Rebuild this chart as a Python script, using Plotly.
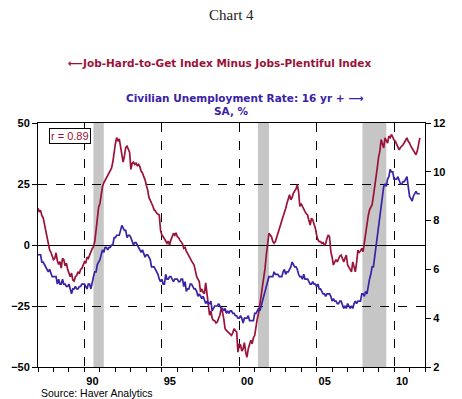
import plotly.graph_objects as go

# Monthly data, Jan 1987 .. Sep 2011
start_year = 1987
diff_index = [
    # 1987
    15.0, 13.5, 14.2, 12.0, 11.2, 8.5, 5.5, 4.0, 1.0, -2.0, -3.0, -4.2,
    # 1988
    -6.0, -5.5, -3.2, -6.5, -8.0, -6.8, -9.5, -5.5, -6.0, -8.5, -7.5, -10.0,
    # 1989
    -12.0, -13.0, -11.5, -14.4, -14.8, -13.0, -12.5, -11.0, -11.8, -10.0, -9.6, -8.5,
    # 1990
    -6.9, -7.5, -5.0, -5.5, -4.0, -3.4, -1.5, -0.7, 1.4, 6.0, 11.0, 15.5,
    # 1991
    17.0, 20.6, 24.0, 25.5, 26.5, 27.0, 28.0, 29.0, 30.0, 31.5, 34.0, 38.5,
    # 1992
    41.5, 44.0, 42.5, 43.5, 40.5, 37.0, 34.0, 36.5, 40.0, 40.5, 39.0, 38.0,
    # 1993
    31.0, 33.5, 34.0, 33.0, 33.5, 32.5, 33.0, 32.0, 30.2, 29.5, 28.0, 26.7,
    # 1994
    24.5, 22.6, 19.5, 18.5, 17.5, 16.0, 14.4, 14.0, 13.0, 12.5, 12.3, 6.0,
    # 1995
    4.1, 3.5, 2.7, 2.0, 0.7, 1.5, 0.0, 2.0, 3.4, 4.8, 4.0, 5.0,
    # 1996
    3.4, 3.0, 2.0, 1.4, 0.5, -1.4, -1.0, -2.5, -3.4, -4.0, -5.5, -6.5,
    # 1997
    -7.5, -8.2, -10.5, -13.0, -14.0, -15.0, -19.2, -18.0, -19.5, -19.9, -15.5, -20.6,
    # 1998
    -24.0, -28.8, -27.0, -30.0, -30.9, -31.0, -32.0, -31.6, -30.0, -28.8, -26.0, -27.5,
    # 1999
    -30.2, -34.3, -35.0, -35.7, -36.0, -36.5, -37.0, -36.0, -34.3, -35.0, -35.7, -43.9,
    # 2000
    -40.5, -41.0, -43.5, -42.5, -40.0, -44.0, -46.0, -42.5, -41.0, -39.0, -40.5, -38.0,
    # 2001
    -37.0, -33.0, -30.2, -28.0, -24.7, -21.0, -18.0, -14.0, -9.6, -4.0, 1.0, 4.8,
    # 2002
    4.1, 3.4, 1.5, 0.7, 1.4, 3.4, 5.0, 6.5, 8.2, 10.0, 11.5, 13.0,
    # 2003
    15.0, 17.1, 18.5, 20.6, 18.5, 19.5, 21.3, 22.0, 23.0, 24.7, 21.9, 15.8,
    # 2004
    17.0, 15.8, 14.5, 13.7, 12.8, 12.3, 10.0, 8.2, 11.0, 10.3, 8.5, 6.9,
    # 2005
    4.0, 2.1, 1.4, 1.4, 0.7, 1.0, 0.0, 0.5, 2.7, 4.1, 3.4, -2.7,
    # 2006
    -5.0, -8.2, -7.0, -6.0, -6.9, -5.5, -4.5, -4.1, -6.0, -6.9, -5.5, -4.1,
    # 2007
    -8.2, -9.0, -10.0, -11.0, -6.9, -9.0, -11.0, -7.0, -2.1, -3.0, -2.5, -1.4,
    # 2008
    -2.7, 1.0, 5.0, 8.0, 12.0, 14.4, 15.5, 16.5, 20.0, 23.3, 27.5, 31.6,
    # 2009
    36.0, 38.5, 43.2, 41.0, 39.8, 43.9, 42.5, 41.8, 44.6, 44.0, 45.3, 43.9,
    # 2010
    43.0, 42.5, 41.5, 40.0, 39.0, 40.0, 40.5, 41.1, 42.0, 43.0, 43.9, 42.5,
    # 2011
    41.8, 40.5, 39.5, 38.4, 37.5, 37.0, 38.5, 41.1, 43.9,
]

unemployment = [
    # 1987
    6.6, 6.6, 6.6, 6.3, 6.3, 6.2, 6.1, 6.0, 5.9, 6.0, 5.8, 5.7,
    # 1988
    5.7, 5.7, 5.7, 5.4, 5.6, 5.4, 5.4, 5.6, 5.4, 5.4, 5.3, 5.3,
    # 1989
    5.4, 5.2, 5.0, 5.2, 5.2, 5.3, 5.2, 5.2, 5.3, 5.3, 5.4, 5.4,
    # 1990
    5.4, 5.3, 5.2, 5.4, 5.4, 5.2, 5.5, 5.7, 5.9, 5.9, 6.2, 6.3,
    # 1991
    6.4, 6.6, 6.8, 6.7, 6.9, 6.9, 6.8, 6.9, 6.9, 7.0, 7.0, 7.3,
    # 1992
    7.3, 7.4, 7.4, 7.4, 7.6, 7.8, 7.7, 7.6, 7.6, 7.3, 7.4, 7.4,
    # 1993
    7.3, 7.1, 7.0, 7.1, 7.1, 7.0, 6.9, 6.8, 6.7, 6.8, 6.6, 6.5,
    # 1994
    6.6, 6.6, 6.5, 6.4, 6.1, 6.1, 6.1, 6.0, 5.9, 5.8, 5.6, 5.5,
    # 1995
    5.6, 5.4, 5.4, 5.8, 5.6, 5.6, 5.7, 5.7, 5.6, 5.5, 5.6, 5.6,
    # 1996
    5.6, 5.5, 5.5, 5.6, 5.6, 5.3, 5.5, 5.1, 5.2, 5.2, 5.4, 5.4,
    # 1997
    5.3, 5.2, 5.2, 5.1, 4.9, 5.0, 4.9, 4.8, 4.9, 4.7, 4.6, 4.7,
    # 1998
    4.6, 4.6, 4.7, 4.3, 4.4, 4.5, 4.5, 4.5, 4.6, 4.5, 4.4, 4.4,
    # 1999
    4.3, 4.4, 4.2, 4.3, 4.2, 4.3, 4.3, 4.2, 4.2, 4.1, 4.1, 4.0,
    # 2000
    4.0, 4.1, 4.0, 3.8, 4.0, 4.0, 4.0, 4.1, 3.9, 3.9, 3.9, 3.9,
    # 2001
    4.2, 4.2, 4.3, 4.4, 4.3, 4.5, 4.6, 4.9, 5.0, 5.3, 5.5, 5.7,
    # 2002
    5.7, 5.7, 5.7, 5.9, 5.8, 5.8, 5.8, 5.7, 5.7, 5.7, 5.9, 6.0,
    # 2003
    5.8, 5.9, 5.9, 6.0, 6.1, 6.3, 6.2, 6.1, 6.1, 6.0, 5.8, 5.7,
    # 2004
    5.7, 5.6, 5.8, 5.6, 5.6, 5.6, 5.5, 5.4, 5.4, 5.5, 5.4, 5.4,
    # 2005
    5.3, 5.4, 5.2, 5.2, 5.1, 5.0, 5.0, 4.9, 5.0, 5.0, 5.0, 4.9,
    # 2006
    4.7, 4.8, 4.7, 4.7, 4.6, 4.6, 4.7, 4.7, 4.5, 4.4, 4.5, 4.4,
    # 2007
    4.6, 4.5, 4.4, 4.5, 4.4, 4.6, 4.7, 4.6, 4.7, 4.7, 4.7, 5.0,
    # 2008
    5.0, 4.9, 5.1, 5.0, 5.4, 5.6, 5.8, 6.1, 6.1, 6.5, 6.8, 7.3,
    # 2009
    7.7, 8.2, 8.6, 8.9, 9.4, 9.5, 9.4, 9.7, 9.8, 10.1, 10.0, 10.0,
    # 2010
    9.7, 9.7, 9.7, 9.8, 9.6, 9.5, 9.5, 9.6, 9.6, 9.7, 9.8, 9.4,
    # 2011
    9.0, 8.9, 8.8, 9.0, 9.1, 9.2, 9.1, 9.1, 9.1,
]

recession_start = [1990.58, 2001.21, 2007.96]
recession_end = [1991.25, 2001.92, 2009.50]

left_ticks = [-50, -25, 0, 25, 50]
right_ticks = [2, 4, 6, 8, 10, 12]
grid_years = [1990, 1995, 2000, 2005, 2010]
year_labels = ["90", "95", "00", "05", "10"]
minor_years = list(range(1987, 2013))

months = [start_year + i / 12 for i in range(len(diff_index))]

RED = "#9b1238"
BLUE = "#3a22a6"
FONT = "Liberation Sans"

fig = go.Figure()

for x0, x1 in zip(recession_start, recession_end):
    fig.add_vrect(x0=x0, x1=x1, fillcolor="#c6c6c6", opacity=1, line_width=0, layer="below")

fig.add_trace(go.Scatter(x=months, y=unemployment, mode="lines",
                         line=dict(color=BLUE, width=1.7), yaxis="y2", showlegend=False))
fig.add_trace(go.Scatter(x=months, y=diff_index, mode="lines",
                         line=dict(color=RED, width=1.7), yaxis="y", showlegend=False))

tickfont = dict(family=FONT, size=11, color="black", weight="bold")

fig.update_layout(
    width=462, height=399,
    margin=dict(l=38, r=37, t=123, b=32, autoexpand=False),
    paper_bgcolor="white", plot_bgcolor="rgba(0,0,0,0)",
    xaxis=dict(range=[1987, 2012], tickvals=grid_years, ticktext=year_labels,
               ticklabelshift=8, ticks="outside", ticklen=4, tickcolor="black",
               showgrid=True, gridcolor="black", griddash="dash", gridwidth=1,
               minor=dict(tickvals=minor_years, ticks="outside", ticklen=4,
                          tickcolor="black", showgrid=False),
               showline=True, linecolor="black", linewidth=1, mirror=True,
               tickfont=tickfont, zeroline=False, automargin=False),
    yaxis=dict(range=[-50, 50], tickvals=left_ticks, ticks="outside", ticklen=5,
               tickcolor="black", showgrid=True, gridcolor="black", griddash="dash",
               gridwidth=1, zeroline=True, zerolinecolor="black", zerolinewidth=1.2,
               showline=True, linecolor="black", linewidth=1,
               tickfont=tickfont, automargin=False),
    yaxis2=dict(range=[2, 12], tickvals=right_ticks, ticks="outside", ticklen=5,
                tickcolor="black", overlaying="y", side="right", showgrid=False,
                zeroline=False, showline=True, linecolor="black", linewidth=1,
                tickfont=tickfont, automargin=False),
)

LEG = "DejaVu Sans"
annotations = [
    dict(text="Chart 4", x=0.499, y=1.443, font=dict(family="Liberation Serif", size=15, color="#222")),
    dict(text="\u27f5Job-Hard-to-Get Index Minus Jobs-Plentiful Index", x=0.468, y=1.246,
         font=dict(family=LEG, size=10.5, color=RED, weight="bold")),
    dict(text="Civilian Unemployment Rate: 16 yr + \u27f6", x=0.534, y=1.102,
         font=dict(family=LEG, size=10.5, color=BLUE, weight="bold")),
    dict(text="SA, %", x=0.499, y=1.049,
         font=dict(family=LEG, size=10.5, color=BLUE, weight="bold")),
    dict(text="Source: Haver Analytics", x=0.003, y=-0.107, xanchor="left",
         font=dict(family=FONT, size=10.5, color="black")),
]
for a in annotations:
    a.setdefault("xanchor", "center")
    fig.add_annotation(xref="paper", yref="paper", showarrow=False, yanchor="middle", **a)

fig.add_annotation(text="r = 0.89", xref="paper", yref="paper", x=0.028, y=0.98,
                   xanchor="left", yanchor="top", showarrow=False,
                   font=dict(family=FONT, size=11, color=RED),
                   bordercolor="black", borderwidth=1, borderpad=1, bgcolor="white")

fig.write_html("out.html", config={"displayModeBar": False},
               post_script="document.body.style.margin='0';")
